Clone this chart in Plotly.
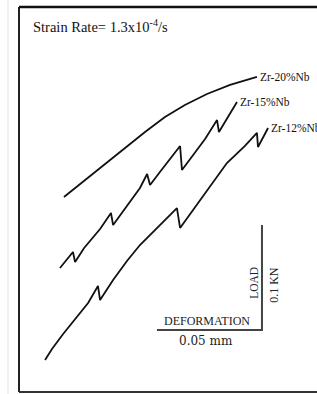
import plotly.graph_objects as go

# Deformation in micrometres, load in newtons (0.05 mm, 0.1 kN)
zr20_def = [21.4, 31.4, 41.0, 50.5, 60.0, 69.5, 79.0, 89.5, 100.5, 113.3]
zr20_load = [185.7, 201.9, 217.1, 232.4, 247.6, 261.9, 273.3, 283.8, 292.4, 300.0]

zr15_def = [19.5, 22.4, 25.7, 26.7, 31.0, 38.6, 43.8, 44.8, 50.5, 57.6, 61.0, 62.4,
            67.1, 71.9, 76.7, 77.6, 83.8, 88.6, 94.3, 95.2, 99.5, 103.8]
zr15_load = [118.1, 124.8, 133.3, 123.8, 137.1, 155.2, 170.5, 159.0, 175.2, 194.3, 207.6, 197.1,
             209.5, 221.9, 234.3, 211.4, 228.6, 241.0, 259.0, 247.6, 261.9, 276.2]

zr12_def = [12.4, 15.7, 21.0, 26.7, 32.9, 37.6, 38.6, 44.8, 51.4, 57.6, 67.1, 75.2,
            76.7, 86.2, 99.0, 107.6, 113.3, 113.8, 118.6]
zr12_load = [30.5, 41.0, 55.2, 69.5, 84.8, 101.0, 87.6, 106.7, 124.8, 140.0, 159.0, 175.2,
             156.2, 182.9, 218.1, 234.3, 246.7, 233.3, 251.4]

series_names = ["Zr-20%Nb", "Zr-15%Nb", "Zr-12%Nb"]

# scale bar
bar_def = [65.7, 115.7, 115.7]
bar_load = [59.0, 59.0, 159.0]

title_text = "Strain Rate= 1.3x10<sup>-4</sup>/s"

fig = go.Figure()
for xs, ys, name in [(zr20_def, zr20_load, series_names[0]),
                     (zr15_def, zr15_load, series_names[1]),
                     (zr12_def, zr12_load, series_names[2])]:
    fig.add_trace(go.Scatter(x=xs, y=ys, mode="lines", name=name,
                             line=dict(color="#111111", width=1.8),
                             showlegend=False, hoverinfo="skip"))
    fig.add_annotation(x=xs[-1], y=ys[-1], text=name, showarrow=False,
                       xanchor="left", yanchor="middle", xshift=1,
                       font=dict(family="Liberation Serif", size=11.5, color="#111111"))

fig.add_trace(go.Scatter(x=bar_def, y=bar_load, mode="lines",
                         line=dict(color="#444444", width=2),
                         showlegend=False, hoverinfo="skip"))

serif = "Liberation Serif"
fig.add_annotation(x=(bar_def[0] + bar_def[1]) / 2 - 1, y=bar_load[0], text="DEFORMATION",
                   showarrow=False, yanchor="bottom", yshift=0,
                   font=dict(family=serif, size=12, color="#222222"))
fig.add_annotation(x=(bar_def[0] + bar_def[1]) / 2 - 1.5, y=bar_load[0], text="0.05 mm",
                   showarrow=False, yanchor="top", yshift=-2,
                   font=dict(family="DejaVu Serif", size=12, color="#222222"))
fig.add_annotation(x=bar_def[1], y=(bar_load[1] + bar_load[2]) / 2 - 5, text="LOAD",
                   showarrow=False, textangle=-90, xanchor="right", xshift=0,
                   font=dict(family=serif, size=11.5, color="#222222"))
fig.add_annotation(x=bar_def[1], y=(bar_load[1] + bar_load[2]) / 2 - 7, text="0.1 KN",
                   showarrow=False, textangle=-90, xanchor="left", xshift=3,
                   font=dict(family=serif, size=12, color="#222222"))

fig.add_annotation(x=31 / 317, y=1 - 26 / 394, xref="paper", yref="paper",
                   text=title_text, showarrow=False, xanchor="left", yanchor="middle",
                   font=dict(family=serif, size=14.5, color="#111111"))

# frame
fig.add_shape(type="line", xref="paper", yref="paper", x0=19 / 317, x1=19 / 317,
              y0=1 - 392 / 394, y1=1 - 7 / 394, line=dict(color="#222222", width=2))
fig.add_shape(type="line", xref="paper", yref="paper", x0=19 / 317, x1=1.01,
              y0=1 - 7 / 394, y1=1 - 7 / 394, line=dict(color="#111111", width=2.5))
fig.add_shape(type="line", xref="paper", yref="paper", x0=19 / 317, x1=1.01,
              y0=1 - 392 / 394, y1=1 - 392 / 394, line=dict(color="#333333", width=2))
fig.add_shape(type="line", xref="paper", yref="paper", x0=8 / 317, x1=8 / 317,
              y0=0, y1=1, line=dict(color="#e4e4e4", width=1))

fig.update_xaxes(range=[-9.05, 141.9], visible=False, showgrid=False, zeroline=False)
fig.update_yaxes(range=[-1.9, 373.3], visible=False, showgrid=False, zeroline=False)
fig.update_layout(width=317, height=394, autosize=False,
                  margin=dict(l=0, r=0, t=0, b=0),
                  plot_bgcolor="white", paper_bgcolor="white")

fig.write_html("out.html", config={"displayModeBar": False},
               post_script="document.body.style.margin='0';")
